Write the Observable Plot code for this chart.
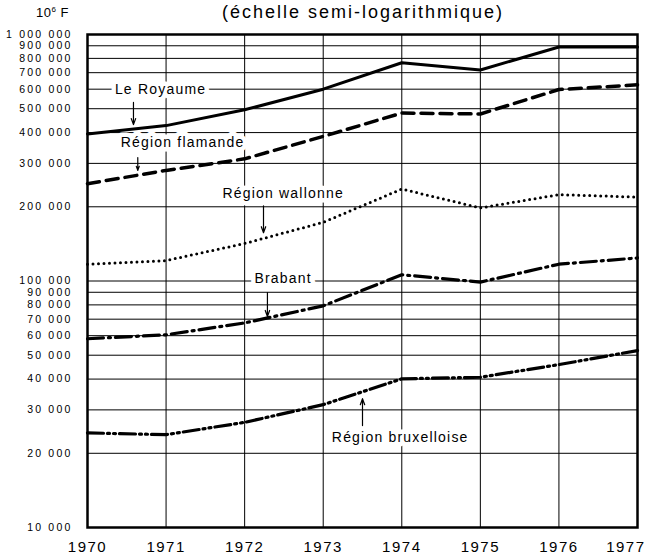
<!DOCTYPE html>
<html><head><meta charset="utf-8">
<script src="https://cdn.jsdelivr.net/npm/d3@7"></script>
<script src="https://cdn.jsdelivr.net/npm/@observablehq/plot@0.6"></script>
<style>
body{margin:0;background:#fff;font-family:"Liberation Sans",Arial,sans-serif;color:#000;}
#wrap{position:relative;width:646px;}
#head{position:relative;height:28px;}
#unit{position:absolute;left:36px;top:5px;font-size:13px;letter-spacing:0.5px;}
#sub{position:absolute;left:0;width:726px;text-align:center;top:2px;font-size:18px;letter-spacing:2px;}
#chart svg .ylab text{letter-spacing:2.2px;}
#chart svg .xlab text{letter-spacing:1.5px;}
#chart svg .ann text{letter-spacing:1.2px;}
</style>
</head><body>
<div id="wrap">
  <div id="head">
    <div id="unit">10<sup style="font-size:8px">6</sup> F</div>
    <div id="sub">(échelle semi-logarithmique)</div>
  </div>
  <div id="chart"></div>
</div>
<script>
const years = [1970, 1971, 1972, 1973, 1974, 1975, 1976, 1977];
const royaume     = [395000, 427000, 495000, 600000, 768000, 718000, 890000, 890000];
const flamande    = [248000, 281000, 313000, 386000, 480000, 476000, 598000, 625000];
const wallonne    = [117000, 121000, 142000, 173000, 236000, 198000, 224000, 219000];
const brabant     = [58300, 60500, 67600, 79300, 106000, 99000, 117000, 124000];
const bruxelloise = [24200, 23800, 26700, 31500, 40100, 40700, 45800, 52200];

const yTicks = [10000, 20000, 30000, 40000, 50000, 60000, 70000, 80000, 90000,
                100000, 200000, 300000, 400000, 500000, 600000, 700000, 800000, 900000, 1000000];
const yTickLabels = ["10 000", "20 000", "30 000", "40 000", "50 000", "60 000", "70 000", "80 000", "90 000",
                     "100 000", "200 000", "300 000", "400 000", "500 000", "600 000", "700 000", "800 000", "900 000", "1 000 000"];
const xTickLabels = ["1970", "1971", "1972", "1973", "1974", "1975", "1976", "1977"];

// annotation anchors (data space)
const labelNames  = ["Le Royaume", "Région flamande", "Région wallonne", "Brabant", "Région bruxelloise"];
const labelYears  = [1970.93, 1971.21, 1972.49, 1972.49, 1973.98];
const labelValues = [600000, 365000, 226000, 102000, 23200];
const arrowYears  = [1970.585, 1970.64, 1972.24, 1972.29, 1973.50];
const arrowFrom   = [530000, 317000, 202000, 89800, 25900];
const arrowTo     = [431000, 281000, 157000, 71800, 33300];

const rows = (vals) => years.map((x, i) => ({x, y: vals[i]}));
const labels = labelNames.map((t, i) => ({t, x: labelYears[i], y: labelValues[i]}));
const arrows = arrowYears.map((x, i) => ({x, y1: arrowFrom[i], y2: arrowTo[i]}));
const yLabs = yTicks.map((v, i) => ({v, t: yTickLabels[i]}));
const xLabs = years.map((v, i) => ({v, t: xTickLabels[i]}));
const lastX = xLabs.length - 1;

const chart = Plot.plot({
  width: 646, height: 530,
  marginTop: 6, marginBottom: 31, marginLeft: 87, marginRight: 9,
  style: {fontFamily: '"Liberation Sans", Arial, sans-serif', background: "#fff", color: "#000"},
  x: {domain: [1970, 1977], axis: null},
  y: {type: "log", domain: [10000, 1000000], axis: null},
  marks: [
    Plot.ruleY(yTicks, {stroke: "#000", strokeWidth: 1}),
    Plot.ruleX(years, {stroke: "#000", strokeWidth: 1}),
    Plot.text(yLabs, {y: "v", text: "t", frameAnchor: "left", textAnchor: "end", dx: -15, fontSize: 10.5, fill: "#000", className: "ylab"}),
    Plot.text(xLabs.slice(0, lastX), {x: "v", text: "t", frameAnchor: "bottom", dy: 24, fontSize: 15, fill: "#000", className: "xlab"}),
    Plot.text(xLabs.slice(lastX), {x: "v", text: "t", frameAnchor: "bottom", textAnchor: "end", dy: 24, dx: 8, fontSize: 15, fill: "#000", className: "xlab"}),
    Plot.frame({stroke: "#000", strokeWidth: 2.5}),
    Plot.line(rows(royaume), {x: "x", y: "y", stroke: "#000", strokeWidth: 3}),
    Plot.line(rows(flamande), {x: "x", y: "y", stroke: "#000", strokeWidth: 3.5, strokeDasharray: "12,7"}),
    Plot.line(rows(wallonne), {x: "x", y: "y", stroke: "#000", strokeWidth: 3, strokeDasharray: "0,5.5", strokeLinecap: "round"}),
    Plot.line(rows(brabant), {x: "x", y: "y", stroke: "#000", strokeWidth: 3.2, strokeDasharray: "16,5,2,5"}),
    Plot.line(rows(bruxelloise), {x: "x", y: "y", stroke: "#000", strokeWidth: 3.2, strokeDasharray: "16,4,2,4,2,4"}),
    Plot.text(labels, {x: "x", y: "y", text: "t", fontSize: 14, fill: "#000", stroke: "#fff", strokeWidth: 9, className: "ann"}),
    Plot.arrow(arrows, {x1: "x", x2: "x", y1: "y1", y2: "y2", stroke: "#000", strokeWidth: 1.2, headLength: 8, headAngle: 40})
  ]
});
document.getElementById("chart").append(chart);
</script>
</body></html>
